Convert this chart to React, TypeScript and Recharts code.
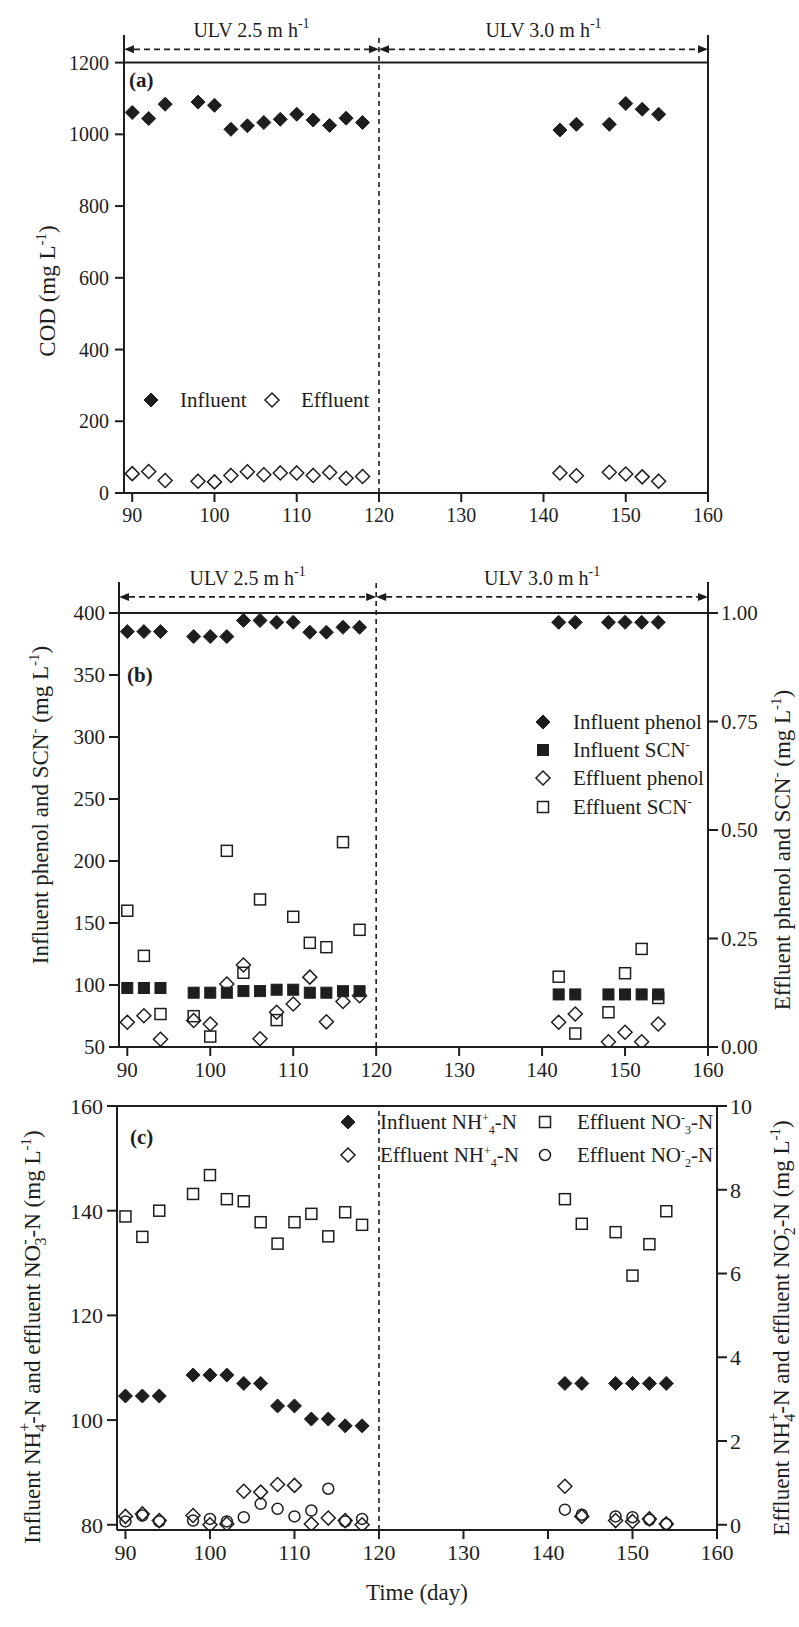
import React from 'react';
import { ScatterChart, Scatter, XAxis, YAxis, ReferenceLine } from 'recharts';

// sampling days (same for every panel)
const days = [90, 92, 94, 98, 100, 102, 104, 106, 108, 110, 112, 114, 116, 118, 142, 144, 148, 150, 152, 154];
const dayTicks = [90, 100, 110, 120, 130, 140, 150, 160];

// (a) COD
const codInfluent = [1061, 1044, 1084, 1090, 1081, 1014, 1024, 1033, 1042, 1056, 1040, 1025, 1045, 1033, 1012, 1028, 1028, 1086, 1070, 1056];
const codEffluent = [54, 60, 35, 33, 31, 49, 59, 51, 56, 56, 49, 57, 41, 46, 56, 48, 58, 53, 45, 33];
const codTicks = [0, 200, 400, 600, 800, 1000, 1200];

// (b) phenol / SCN-
const phenolInfluent = [385, 385, 385, 381, 381, 381, 394, 394, 392.5, 392.5, 384.5, 384.5, 388.5, 388.5, 392.5, 392.5, 392.5, 392.5, 392.5, 392.5];
const scnInfluent = [97.6, 97.6, 97.6, 93.8, 93.8, 93.8, 95.1, 95.1, 96.2, 96.2, 93.8, 93.8, 95, 95, 92.4, 92.4, 92.4, 92.4, 92.4, 92.4];
const phenolEffluent = [0.057, 0.072, 0.018, 0.061, 0.053, 0.145, 0.189, 0.019, 0.08, 0.099, 0.161, 0.058, 0.105, 0.118, 0.057, 0.076, 0.012, 0.034, 0.012, 0.053];
const scnEffluent = [0.314, 0.21, 0.076, 0.071, 0.024, 0.452, 0.171, 0.34, 0.062, 0.3, 0.24, 0.23, 0.472, 0.27, 0.162, 0.031, 0.08, 0.17, 0.226, 0.113];
const phenolTicks = [50, 100, 150, 200, 250, 300, 350, 400];
const effluentTicks = [0, 0.25, 0.5, 0.75, 1];

// (c) nitrogen
const ammoniumInfluent = [104.6, 104.6, 104.6, 108.6, 108.6, 108.6, 107, 107, 102.7, 102.7, 100.2, 100.2, 98.9, 98.9, 107, 107, 107, 107, 107, 107];
const nitrateEffluent = [138.9, 135, 140, 143.2, 146.8, 142.2, 141.8, 137.8, 133.7, 137.8, 139.4, 135.1, 139.7, 137.3, 142.2, 137.5, 135.9, 127.6, 133.6, 139.9];
const ammoniumEffluent = [0.2, 0.26, 0.1, 0.22, 0, 0.02, 0.8, 0.78, 0.96, 0.94, 0.02, 0.16, 0.1, 0, 0.92, 0.2, 0.1, 0.08, 0.14, 0.02];
const nitriteEffluent = [0.08, 0.22, 0.08, 0.1, 0.14, 0.08, 0.18, 0.5, 0.38, 0.2, 0.34, 0.86, 0.08, 0.14, 0.36, 0.24, 0.2, 0.18, 0.12, 0.02];
const nitrogenTicks = [80, 100, 120, 140, 160];
const nitriteTicks = [0, 2, 4, 6, 8, 10];

const INK = '#1e1e1e';
const FONT = '"Liberation Serif", "Times New Roman", serif';

const toPoints = (ys: number[]) => days.map((x, i) => ({ x, y: ys[i] }));

// marker shapes
const diamond = (filled: boolean, h = 7) => (p: any) => (
  <path
    d={`M${p.cx},${p.cy - h}L${p.cx + h},${p.cy}L${p.cx},${p.cy + h}L${p.cx - h},${p.cy}Z`}
    fill={filled ? INK : 'none'}
    stroke={INK}
    strokeWidth={filled ? 1 : 1.5}
  />
);
const square = (filled: boolean, s = 11) => (p: any) => (
  <rect
    x={p.cx - s / 2}
    y={p.cy - s / 2}
    width={s}
    height={s}
    fill={filled ? INK : 'none'}
    stroke={INK}
    strokeWidth={filled ? 1 : 1.5}
  />
);
const ring = (r = 5.5) => (p: any) => <circle cx={p.cx} cy={p.cy} r={r} fill="none" stroke={INK} strokeWidth={1.5} />;

// dashed double arrow with the ULV caption above it
const rangeArrow = (label: string) => (p: any) => {
  const { x1, y1, x2 } = p;
  const a = 10;
  const w = 4;
  return (
    <g>
      <line x1={x1 + a} y1={y1} x2={x2 - a} y2={y1} stroke={INK} strokeWidth={1.6} strokeDasharray="6 4" />
      <path d={`M${x1},${y1}L${x1 + a},${y1 - w}L${x1 + a},${y1 + w}Z`} fill={INK} />
      <path d={`M${x2},${y1}L${x2 - a},${y1 - w}L${x2 - a},${y1 + w}Z`} fill={INK} />
      <text x={(x1 + x2) / 2} y={y1 - 12} textAnchor="middle" fontSize={20} fill={INK}>
        {label}
        <tspan dy={-9} fontSize={14}>-1</tspan>
      </text>
    </g>
  );
};

const axisStyle = { stroke: INK, strokeWidth: 2 };

function xAxis(fontSize: number, height: number, margin: number) {
  return (
    <XAxis
      type="number"
      dataKey="x"
      domain={[89, 160]}
      ticks={dayTicks}
      interval={0}
      allowDataOverflow
      height={height}
      axisLine={axisStyle}
      tickLine={axisStyle}
      tickSize={9}
      tickMargin={margin}
      tick={{ fill: INK, fontSize }}
    />
  );
}

function CodChart() {
  return (
    <ScatterChart width={799} height={540} margin={{ top: 35, right: 91, bottom: 7, left: 0 }}>
      {xAxis(20, 40, 6)}
      <YAxis
        type="number"
        dataKey="y"
        width={124}
        domain={[0, 1277]}
        ticks={codTicks}
        interval={0}
        allowDataOverflow
        axisLine={axisStyle}
        tickLine={axisStyle}
        tickSize={9}
        tickMargin={6}
        tick={{ fill: INK, fontSize: 20 }}
      />
      <ReferenceLine y={1200} stroke={INK} strokeWidth={2} />
      <ReferenceLine x={160} stroke={INK} strokeWidth={2} />
      <ReferenceLine x={120} stroke={INK} strokeWidth={1.6} strokeDasharray="5 4" />
      <ReferenceLine segment={[{ x: 89, y: 1237 }, { x: 120, y: 1237 }]} shape={rangeArrow('ULV 2.5 m h')} />
      <ReferenceLine segment={[{ x: 120, y: 1237 }, { x: 160, y: 1237 }]} shape={rangeArrow('ULV 3.0 m h')} />
      <Scatter name="Influent" data={toPoints(codInfluent)} shape={diamond(true)} isAnimationActive={false} />
      <Scatter name="Effluent" data={toPoints(codEffluent)} shape={diamond(false)} isAnimationActive={false} />
    </ScatterChart>
  );
}

function PhenolChart() {
  return (
    <ScatterChart width={799} height={560} margin={{ top: 42, right: 0, bottom: 0, left: 0 }}>
      {xAxis(21, 53, 6)}
      <YAxis
        yAxisId="left"
        type="number"
        dataKey="y"
        width={119}
        domain={[50, 425]}
        ticks={phenolTicks}
        interval={0}
        allowDataOverflow
        axisLine={axisStyle}
        tickLine={axisStyle}
        tickSize={10}
        tickMargin={4}
        tick={{ fill: INK, fontSize: 21 }}
      />
      <YAxis
        yAxisId="right"
        orientation="right"
        type="number"
        dataKey="y"
        width={91}
        domain={[0, 375 / 350]}
        ticks={effluentTicks}
        interval={0}
        allowDataOverflow
        axisLine={axisStyle}
        tickLine={axisStyle}
        tickSize={10}
        tickMargin={3}
        tickFormatter={(v: number) => v.toFixed(2)}
        tick={{ fill: INK, fontSize: 21 }}
      />
      <ReferenceLine yAxisId="left" y={400} stroke={INK} strokeWidth={2} />
      <ReferenceLine yAxisId="left" x={120} stroke={INK} strokeWidth={1.6} strokeDasharray="5 4" />
      <ReferenceLine yAxisId="left" segment={[{ x: 89, y: 413 }, { x: 120, y: 413 }]} shape={rangeArrow('ULV 2.5 m h')} />
      <ReferenceLine yAxisId="left" segment={[{ x: 120, y: 413 }, { x: 160, y: 413 }]} shape={rangeArrow('ULV 3.0 m h')} />
      <Scatter yAxisId="left" name="Influent phenol" data={toPoints(phenolInfluent)} shape={diamond(true)} isAnimationActive={false} />
      <Scatter yAxisId="left" name="Influent SCN-" data={toPoints(scnInfluent)} shape={square(true)} isAnimationActive={false} />
      <Scatter yAxisId="right" name="Effluent phenol" data={toPoints(phenolEffluent)} shape={diamond(false)} isAnimationActive={false} />
      <Scatter yAxisId="right" name="Effluent SCN-" data={toPoints(scnEffluent)} shape={square(false)} isAnimationActive={false} />
    </ScatterChart>
  );
}

function NitrogenChart() {
  return (
    <ScatterChart width={799} height={547} margin={{ top: 26, right: 0, bottom: 57, left: 0 }}>
      {xAxis(22, 40, 5)}
      <YAxis
        yAxisId="left"
        type="number"
        dataKey="y"
        width={117}
        domain={[79, 160]}
        ticks={nitrogenTicks}
        interval={0}
        allowDataOverflow
        axisLine={axisStyle}
        tickLine={axisStyle}
        tickSize={10}
        tickMargin={4}
        tick={{ fill: INK, fontSize: 22 }}
      />
      <YAxis
        yAxisId="right"
        orientation="right"
        type="number"
        dataKey="y"
        width={82}
        domain={[-0.125, 10]}
        ticks={nitriteTicks}
        interval={0}
        allowDataOverflow
        axisLine={axisStyle}
        tickLine={axisStyle}
        tickSize={10}
        tickMargin={3}
        tick={{ fill: INK, fontSize: 22 }}
      />
      <ReferenceLine yAxisId="left" y={160} stroke={INK} strokeWidth={2} />
      <ReferenceLine yAxisId="left" x={120} stroke={INK} strokeWidth={1.6} strokeDasharray="5 4" />
      <Scatter yAxisId="left" name="Effluent NO3-N" data={toPoints(nitrateEffluent)} shape={square(false)} isAnimationActive={false} />
      <Scatter yAxisId="left" name="Influent NH4-N" data={toPoints(ammoniumInfluent)} shape={diamond(true)} isAnimationActive={false} />
      <Scatter yAxisId="right" name="Effluent NH4-N" data={toPoints(ammoniumEffluent)} shape={diamond(false)} isAnimationActive={false} />
      <Scatter yAxisId="right" name="Effluent NO2-N" data={toPoints(nitriteEffluent)} shape={ring()} isAnimationActive={false} />
    </ScatterChart>
  );
}

// legend keys drawn as small svg glyphs
function Key({ kind, x, y }: { kind: string; x: number; y: number }) {
  const p = { cx: x, cy: y };
  if (kind === 'fd') return diamond(true)(p);
  if (kind === 'od') return diamond(false)(p);
  if (kind === 'fs') return square(true)(p);
  if (kind === 'os') return square(false)(p);
  return ring()(p);
}

function Overlay() {
  return (
    <svg width={799} height={1627} style={{ position: 'absolute', left: 0, top: 0, pointerEvents: 'none' }} fontFamily={FONT} fill={INK}>
      {/* panel tags */}
      <text x={129} y={87} fontSize={21} fontWeight="bold">(a)</text>
      <text x={127} y={682} fontSize={21} fontWeight="bold">(b)</text>
      <text x={130} y={1144} fontSize={21} fontWeight="bold">(c)</text>

      {/* (a) legend */}
      <Key kind="fd" x={151} y={400} />
      <text x={180} y={407} fontSize={21}>Influent</text>
      <Key kind="od" x={272} y={400} />
      <text x={301} y={407} fontSize={21}>Effluent</text>

      {/* (b) legend */}
      <Key kind="fd" x={543} y={722} />
      <text x={573} y={729} fontSize={21}>Influent phenol</text>
      <Key kind="fs" x={543} y={750} />
      <text x={573} y={757} fontSize={21}>
        Influent SCN<tspan dy={-8} fontSize={13}>-</tspan>
      </text>
      <Key kind="od" x={543} y={778} />
      <text x={573} y={785} fontSize={21}>Effluent phenol</text>
      <Key kind="os" x={543} y={807} />
      <text x={573} y={814} fontSize={21}>
        Effluent SCN<tspan dy={-8} fontSize={13}>-</tspan>
      </text>

      {/* (c) legend */}
      <Key kind="fd" x={348} y={1122} />
      <text x={380} y={1129} fontSize={21}>
        Influent NH<tspan dy={-7} fontSize={12}>+</tspan>
        <tspan dy={12} fontSize={12}>4</tspan>
        <tspan dy={-5}>-N</tspan>
      </text>
      <Key kind="od" x={348} y={1155} />
      <text x={380} y={1162} fontSize={21}>
        Effluent NH<tspan dy={-7} fontSize={12}>+</tspan>
        <tspan dy={12} fontSize={12}>4</tspan>
        <tspan dy={-5}>-N</tspan>
      </text>
      <Key kind="os" x={545} y={1122} />
      <text x={577} y={1129} fontSize={21}>
        Effluent NO<tspan dy={-7} fontSize={12}>-</tspan>
        <tspan dy={12} fontSize={12}>3</tspan>
        <tspan dy={-5}>-N</tspan>
      </text>
      <Key kind="oc" x={545} y={1155} />
      <text x={577} y={1162} fontSize={21}>
        Effluent NO<tspan dy={-7} fontSize={12}>-</tspan>
        <tspan dy={12} fontSize={12}>2</tspan>
        <tspan dy={-5}>-N</tspan>
      </text>

      {/* axis titles */}
      <text x={55} y={291} fontSize={23} textAnchor="middle" transform="rotate(-90 55 291)">
        COD (mg L<tspan dy={-9} fontSize={15}>-1</tspan>
        <tspan dy={9}>)</tspan>
      </text>
      <text x={48} y={805} fontSize={23} textAnchor="middle" transform="rotate(-90 48 805)">
        Influent phenol and SCN<tspan dy={-9} fontSize={15}>-</tspan>
        <tspan dy={9}> (mg L</tspan>
        <tspan dy={-9} fontSize={15}>-1</tspan>
        <tspan dy={9}>)</tspan>
      </text>
      <text x={790} y={850} fontSize={23} textAnchor="middle" transform="rotate(-90 790 850)">
        Effluent phenol and SCN<tspan dy={-9} fontSize={15}>-</tspan>
        <tspan dy={9}> (mg L</tspan>
        <tspan dy={-9} fontSize={15}>-1</tspan>
        <tspan dy={9}>)</tspan>
      </text>
      <text x={40} y={1337} fontSize={23} textAnchor="middle" transform="rotate(-90 40 1337)">
        Influent NH<tspan dy={-10} fontSize={16}>+</tspan>
        <tspan dx={-9} dy={16} fontSize={16}>4</tspan>
        <tspan dy={-6}>-N and effluent NO</tspan>
        <tspan dy={-10} fontSize={16}>-</tspan>
        <tspan dx={-6} dy={16} fontSize={16}>3</tspan>
        <tspan dy={-6}>-N (mg L</tspan>
        <tspan dy={-9} fontSize={15}>-1</tspan>
        <tspan dy={9}>)</tspan>
      </text>
      <text x={789} y={1328} fontSize={23} textAnchor="middle" transform="rotate(-90 789 1328)">
        Effluent NH<tspan dy={-10} fontSize={16}>+</tspan>
        <tspan dx={-9} dy={16} fontSize={16}>4</tspan>
        <tspan dy={-6}>-N and effluent NO</tspan>
        <tspan dy={-10} fontSize={16}>-</tspan>
        <tspan dx={-6} dy={16} fontSize={16}>2</tspan>
        <tspan dy={-6}>-N (mg L</tspan>
        <tspan dy={-9} fontSize={15}>-1</tspan>
        <tspan dy={9}>)</tspan>
      </text>
      <text x={417} y={1600} fontSize={23} textAnchor="middle">Time (day)</text>
    </svg>
  );
}

export default function App() {
  return (
    <div style={{ position: 'absolute', left: 0, top: 0, width: 799, height: 1627, background: '#fff', fontFamily: FONT }}>
      <div style={{ position: 'absolute', left: 0, top: 0 }}>
        <CodChart />
      </div>
      <div style={{ position: 'absolute', left: 0, top: 540 }}>
        <PhenolChart />
      </div>
      <div style={{ position: 'absolute', left: 0, top: 1080 }}>
        <NitrogenChart />
      </div>
      <Overlay />
    </div>
  );
}
